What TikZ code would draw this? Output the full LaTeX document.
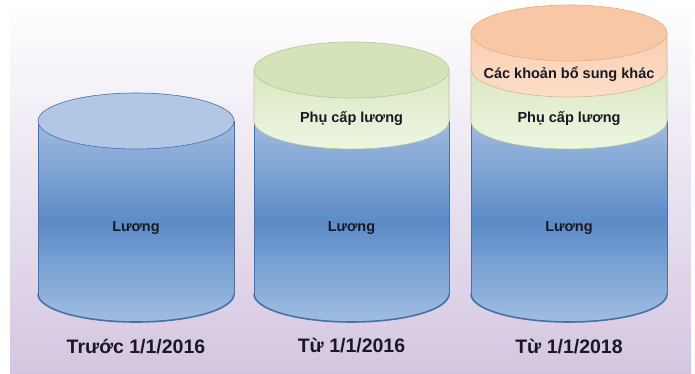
\documentclass[tikz,border=0pt]{standalone}
\usepackage{fontspec}
\setmainfont{Liberation Sans}
\definecolor{bgpurple}{RGB}{212,198,224}
\definecolor{bluetop}{RGB}{178,199,228}
\definecolor{blueA}{RGB}{160,187,224}
\definecolor{blueM}{RGB}{92,139,199}
\definecolor{blueB}{RGB}{160,190,226}
\definecolor{blueline}{RGB}{70,112,170}
\definecolor{greentop}{RGB}{212,227,185}
\definecolor{greenA}{RGB}{218,232,195}
\definecolor{greenB}{RGB}{238,246,226}
\definecolor{greenline}{RGB}{180,200,150}
\definecolor{orangetop}{RGB}{248,199,166}
\definecolor{orangeA}{RGB}{249,206,177}
\definecolor{orangeB}{RGB}{253,222,201}
\definecolor{orangeline}{RGB}{225,175,140}
\definecolor{txt}{RGB}{25,25,35}
\tikzset{
  intext/.style={font=\bfseries\fontsize{14.5}{17}\selectfont, text=txt, inner sep=0pt},
  captext/.style={font=\bfseries\fontsize{19.5}{23}\selectfont, text=txt, inner sep=0pt},
}
% #1 left x, #2 right x, #3 top Y, #4 bottom Y, #5 top colour, #6 bottom colour, #7 line colour
\newcommand{\mybandlayer}[7]{%
  \pgfmathsetmacro{\rxx}{(#2-#1)/2}%
  \shade[top color=#5, bottom color=#6, draw=#7, line width=0.6pt]
    (#1,#3) -- (#1,#4) arc[start angle=180, end angle=360, x radius=\rxx, y radius=28] -- (#2,#3) -- cycle;
}
\newcommand{\mytopell}[5]{%
  \pgfmathsetmacro{\rxx}{(#2-#1)/2}%
  \pgfmathsetmacro{\cxx}{(#2+#1)/2}%
  \fill[#4, draw=#5, line width=0.6pt] (\cxx,#3) ellipse [x radius=\rxx, y radius=28];
}
% blue body: #1 left, #2 right
\newcommand{\mybluebody}[2]{%
  \pgfmathsetmacro{\rxx}{(#2-#1)/2}%
  \shade[top color=blueA, bottom color=blueB, middle color=blueM]
    (#1,253) -- (#1,80) arc[start angle=180, end angle=360, x radius=\rxx, y radius=28] -- (#2,253) -- cycle;
  \draw[blueline, line width=0.9pt] (#1,253) -- (#1,80);
  \draw[blueline, line width=0.9pt] (#2,253) -- (#2,80);
  \draw[blueline, line width=1.6pt] (#1,80) arc[start angle=180, end angle=360, x radius=\rxx, y radius=28];
}
\begin{document}
\begin{tikzpicture}[x=1pt,y=1pt]
\useasboundingbox (0,0) rectangle (695,374);
\shade[top color=white, bottom color=bgpurple] (10,0) rectangle (691,374);

% Cylinder 1
\mybluebody{38}{234}
\mytopell{38}{234}{253}{bluetop}{blueline}
\node[intext] (l1) at (136,146) {Lương};
\node[captext] (c1) at (136,27) {Trước 1/1/2016};

% Cylinder 2
\mybluebody{254}{449}
\mybandlayer{254}{449}{304}{253}{greenA}{greenB}{greenline}
\mytopell{254}{449}{304}{greentop}{greenline}
\node[intext] (p2) at (351.5,256) {Phụ cấp lương};
\node[intext] (l2) at (351.5,146) {Lương};
\node[captext] (c2) at (351.5,28) {Từ 1/1/2016};

% Cylinder 3
\mybluebody{471}{667}
\mybandlayer{471}{667}{305}{253}{greenA}{greenB}{greenline}
\mybandlayer{471}{667}{341}{305}{orangeA}{orangeB}{orangeline}
\mytopell{471}{667}{341}{orangetop}{orangeline}
\node[intext] (o3) at (569,300) {Các khoản bổ sung khác};
\node[intext] (p3) at (569,256) {Phụ cấp lương};
\node[intext] (l3) at (569,146) {Lương};
\node[captext] (c3) at (569,27) {Từ 1/1/2018};
\end{tikzpicture}
\end{document}
